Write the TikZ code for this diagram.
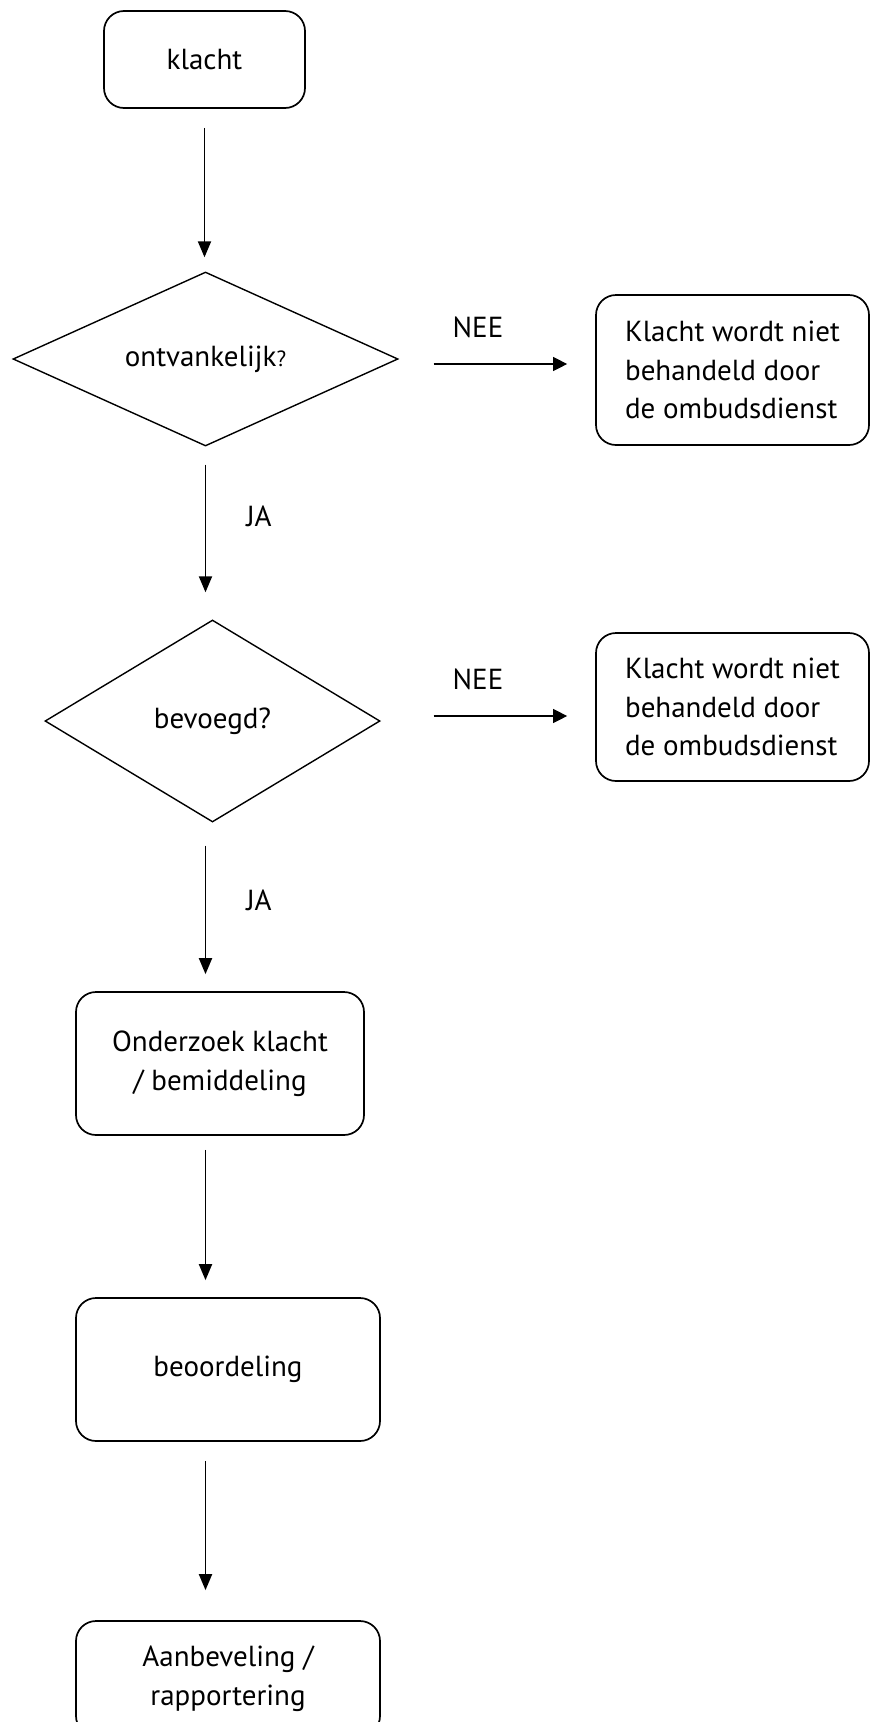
\documentclass[tikz,border=0pt]{standalone}
\usepackage{fontspec}
\setmainfont{PT Sans}
\usetikzlibrary{shapes.geometric,arrows.meta,calc}
\begin{document}
\begin{tikzpicture}[x=1pt,y=-1pt,
  txt/.style={font=\fontsize{29}{38.5}\selectfont},
  box/.style={txt,draw,line width=1.7pt,rounded corners=20pt,inner sep=0pt,align=center},
  sidebox/.style={box,align=left,minimum width=273pt},
  dia/.style={txt,draw,diamond,line width=1.4pt,inner sep=0pt},
  arr/.style={line width=1.9pt,-{Triangle[length=16pt,width=13pt]}},
  harr/.style={line width=1.2pt,-{Triangle[length=14pt,width=14pt]}},
  lbl/.style={txt,inner sep=0pt}]
\useasboundingbox (0,0) rectangle (870,1722);
\clip (0,0) rectangle (870,1722);

\node[box,minimum width=201pt,minimum height=97pt] (klacht) at (204.5,59.5) {klacht};
\node[dia,aspect=2.2,minimum width=385pt,minimum height=174pt] (d1) at (205.5,359) {ontvankelijk{\fontsize{22}{22}\selectfont ?}};
\node[sidebox,minimum height=150pt] (r1) at (732.5,370) {Klacht wordt niet\\behandeld door\\de ombudsdienst};
\node[dia,aspect=1.66,minimum width=335pt,minimum height=202pt] (d2) at (212.5,721) {bevoegd?};
\node[sidebox,minimum height=148pt] (r2) at (732.5,707) {Klacht wordt niet\\behandeld door\\de ombudsdienst};
\node[box,minimum width=288pt,minimum height=143pt] (ond) at (220,1063.5) {Onderzoek klacht\\/ bemiddeling};
\node[box,minimum width=304pt,minimum height=143pt] (beo) at (228,1369.5) {beoordeling};
\node[box,minimum width=304pt,minimum height=115pt] (aan) at (228,1678.5) {Aanbeveling /\\rapportering};

\node[lbl] (nee1) at (478,327) {NEE};
\node[lbl] (nee2) at (478,679) {NEE};
\node[lbl] (ja1) at (259,516) {JA};
\node[lbl] (ja2) at (259,900) {JA};

\draw[arr,shorten <=19pt,shorten >=14pt] (klacht.south) -- (klacht.south |- d1.north);
\draw[arr,shorten <=18pt,shorten >=27pt] (d1.south) -- (d1.south |- d2.north);
\draw[arr,shorten <=23pt,shorten >=17pt] (d1.south |- d2.south) -- (d1.south |- ond.north);
\draw[arr,shorten <=14pt,shorten >=17pt] (d1.south |- ond.south) -- (d1.south |- beo.north);
\draw[arr,shorten <=19pt,shorten >=30pt] (d1.south |- beo.south) -- (d1.south |- aan.north);

\draw[harr,shorten <=35pt,shorten >=28pt] ($(d1.east)+(0,5)$) -- ($(d1.east -| r1.west)+(0,5)$);
\draw[harr,shorten <=53pt,shorten >=28pt] ($(d2.east)+(0,-5)$) -- ($(d2.east -| r2.west)+(0,-5)$);
\end{tikzpicture}
\end{document}
